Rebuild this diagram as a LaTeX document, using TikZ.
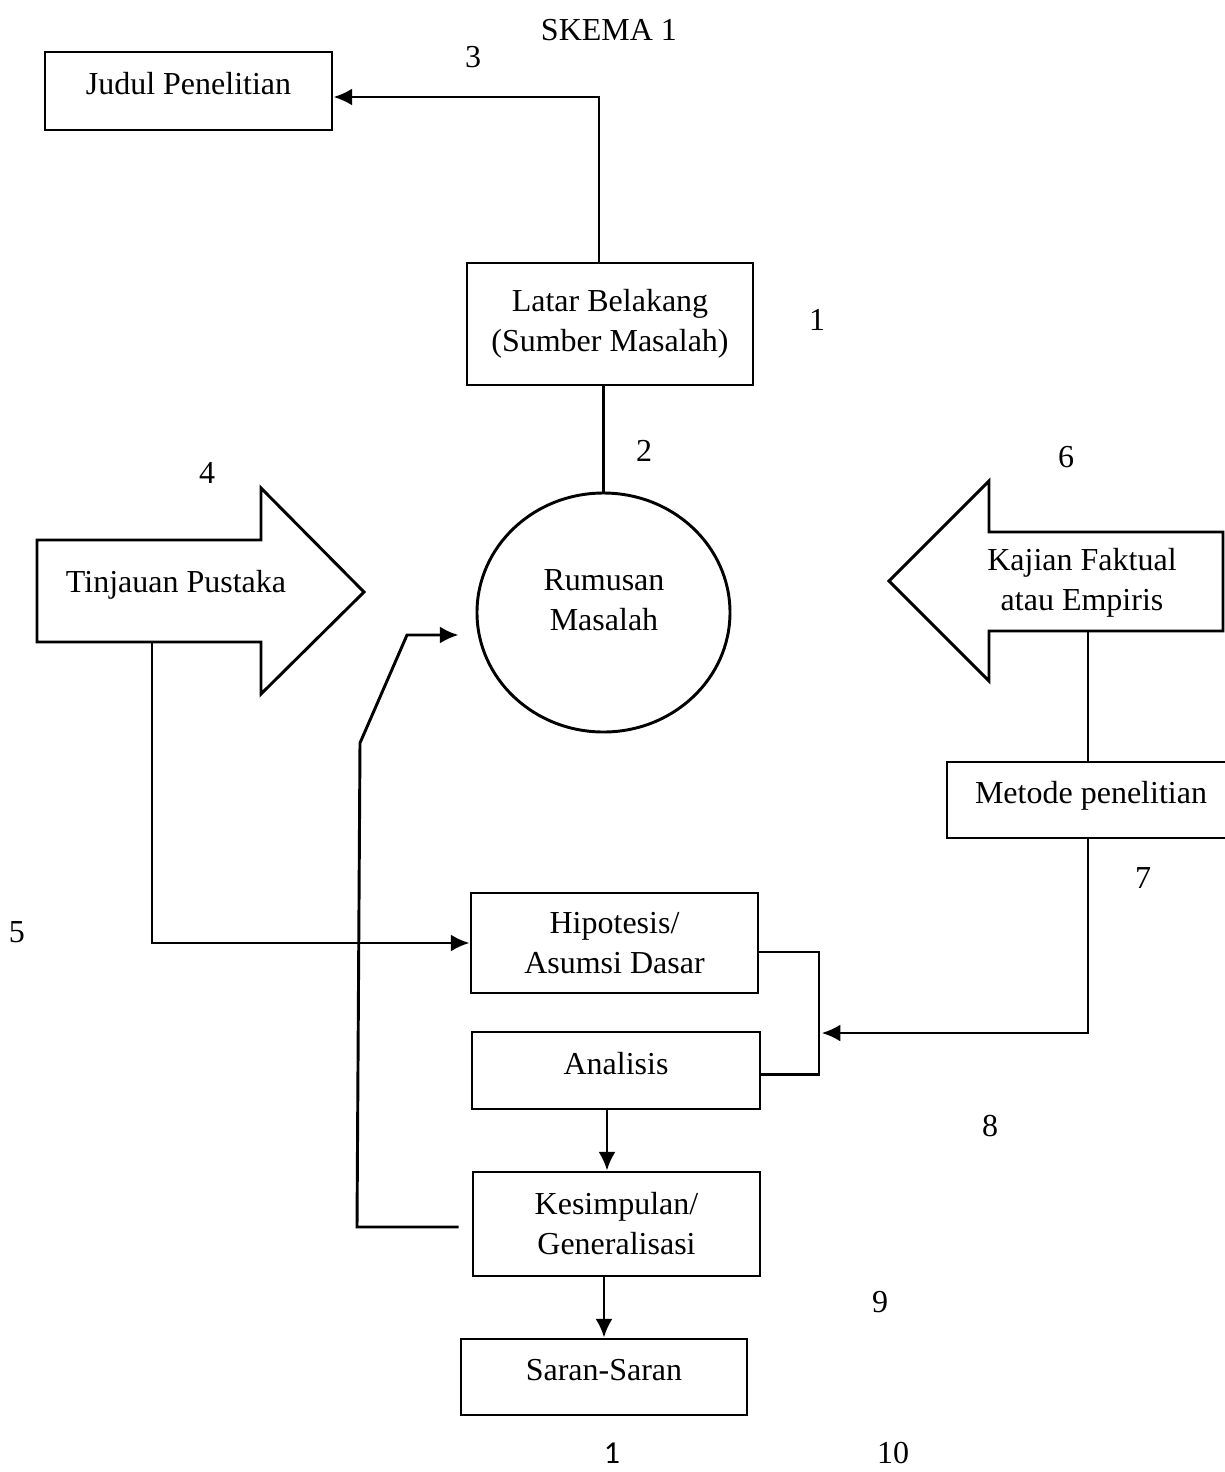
\documentclass[tikz,border=0pt]{standalone}
\usepackage{fontspec}
\setmainfont{Liberation Serif}
\newfontfamily\calfont{Carlito}
\usetikzlibrary{arrows.meta,shapes.geometric}

\def\px{0.375pt}
\tikzset{
  kotak/.style={draw, rectangle, inner sep=0pt, align=center},
  sebaris/.style={text height=8.2pt, text depth=5.4pt},
  angka/.style={inner sep=0pt},
}

\begin{document}
\begin{tikzpicture}[x=\px,y=-\px,>={Latex[length=7pt,width=6.4pt]},line join=miter,line width=1.1pt,font=\fontsize{12}{15}\selectfont]
\useasboundingbox (0,0) rectangle (1225,1472);

\node (skema) at (609,30) {SKEMA 1};

% Node: judul
\node[kotak,sebaris,minimum width=287*\px,minimum height=78*\px] (judul) at (188.5,91) {Judul Penelitian};

% Node: latar
\node[kotak,minimum width=286*\px,minimum height=122*\px] (latar) at (610,324) {Latar Belakang\\(Sumber Masalah)};

% Node: rumusan
\node[draw,ellipse,inner sep=0pt,minimum width=253*\px,minimum height=239*\px] (rumusan) at (603.5,612.5) {};
\node[align=center] (rumusanteks) at (604,600) {Rumusan\\Masalah};

% Node: tinjauan (big arrow)
\draw (37,540) -- (261,540) -- (261,488) -- (364,592) -- (261,694) -- (261,642) -- (37,642) -- cycle;
\node (tinjauan) at (176,585) {Tinjauan Pustaka};
\coordinate (tp-kaki) at (152,642);

% Node: kajian (big arrow)
\draw (1223,532) -- (989,532) -- (989,481) -- (889,581) -- (989,681) -- (989,631) -- (1223,631) -- cycle;
\node[align=center] (kajian) at (1082,583) {Kajian Faktual\\atau Empiris};
\coordinate (kf-kaki) at (1088,631);

% Node: metode
\node[kotak,sebaris,minimum width=288*\px,minimum height=76*\px] (metode) at (1091,800) {Metode penelitian};

% Node: hipotesis, analisis, kesimpulan, saran
\node[kotak,minimum width=287*\px,minimum height=100*\px] (hipotesis) at (614.5,943) {Hipotesis/\\Asumsi Dasar};
\node[kotak,sebaris,minimum width=288*\px,minimum height=77*\px] (analisis) at (616,1070.5) {Analisis};
\node[kotak,minimum width=287*\px,minimum height=104*\px] (kesimpulan) at (616.5,1224) {Kesimpulan/\\Generalisasi};
\node[kotak,sebaris,minimum width=286*\px,minimum height=76*\px] (saran) at (604,1377) {Saran-Saran};

% Numbers
\node[angka] (n1) at (817,320) {1};
\node[angka] (n2) at (644,451) {2};
\node[angka] (n3) at (473,57) {3};
\node[angka] (n4) at (207,473) {4};
\node[angka] (n5) at (17,932) {5};
\node[angka] (n6) at (1066,457) {6};
\node[angka] (n7) at (1143,878) {7};
\node[angka] (n8) at (990,1126) {8};
\node[angka] (n9) at (880,1302) {9};
\node[angka,font={\fontsize{12}{15}\selectfont\calfont}] (hal) at (612,1453) {1};
\node[angka] (n10) at (893,1453) {10};

% Edge: latar -> judul
\coordinate (c3) at (599,97);
\draw[->] (latar.north -| c3) -- (c3) -- (c3 -| judul.east);

% Edge: latar -- rumusan
\draw (rumusan.north |- latar.south) -- (rumusan.north);

% Edge: tinjauan -> hipotesis
\draw[->] (tp-kaki) -- (tp-kaki |- hipotesis.west) -- (hipotesis.west);

% Edge: kajian -- metode
\draw (kf-kaki) -- (kf-kaki |- metode.north);

% Edge: metode -> kurung
\coordinate (kurung) at (819,1033);
\draw[->] (kf-kaki |- metode.south) -- (kf-kaki |- kurung) -- ([xshift=1pt]kurung);

% Edge: hipotesis -- analisis (kurung)
\draw ([yshift=-9*\px]hipotesis.east) -| (kurung) |- ([yshift=-4*\px]analisis.east);

% Edge: analisis -> kesimpulan
\draw[->] ([xshift=-9*\px]analisis.south) -- ([xshift=-9*\px]analisis.south |- kesimpulan.north);

% Edge: kesimpulan -> saran
\draw[->] (saran.north |- kesimpulan.south) -- (saran.north);

% Edge: kesimpulan -> rumusan
\coordinate (belok) at (407,635);
\draw[->] ([xshift=-13*\px,yshift=-3*\px]kesimpulan.west) -- (357,1227) -- (360,743) -- (belok) -- ([xshift=-17*\px]belok -| rumusan.west);
%
\end{tikzpicture}
\end{document}
